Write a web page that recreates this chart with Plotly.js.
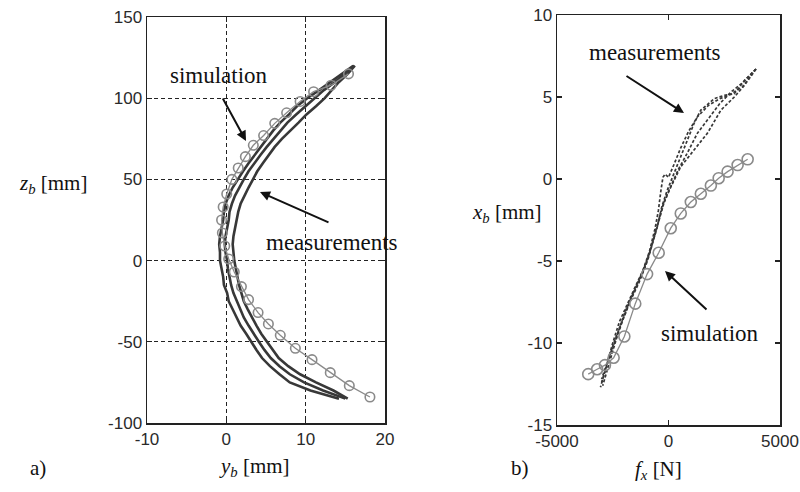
<!DOCTYPE html>
<html>
<head>
<meta charset="utf-8">
<script src="https://cdn.plot.ly/plotly-3.0.1.min.js"></script>
<style>html,body{margin:0;padding:0;background:#fff;}#chart{width:800px;height:492px;}</style>
</head>
<body>
<div id="chart"></div>
<script>
// ---------- Panel a) : z_b vs y_b ----------
const simA_y = [15.4, 13.2, 11.0, 9.3, 7.6, 6.1, 4.7, 3.4, 2.4, 1.5, 0.7, 0.05, -0.4, -0.6, -0.5, -0.2, 0.3, 1.0, 1.9, 2.8, 4.0, 5.3, 6.8, 8.7, 10.8, 13.1, 15.5, 18.1];
const simA_z = [115, 108, 104, 98, 91, 84.5, 77, 71, 64, 57, 50, 41, 33, 25, 17, 9, 1, -7, -16, -24, -32, -39, -46, -54, -61, -69, -77, -84];

const measA_z = [120,115,110,105,100,95,90,85,80,75,70,65,60,55,50,45,40,35,30,25,20,15,10,5,0,-5,-10,-15,-20,-25,-30,-35,-40,-45,-50,-55,-60,-65,-70,-75,-80,-85];
const measA_L = [16.0,14.6,13.1,11.7,10.2,8.9,7.9,6.8,5.9,5.1,4.3,3.6,2.8,2.1,1.4,0.8,0.3,-0.1,-0.3,-0.4,-0.6,-0.8,-0.9,-0.8,-0.8,-0.6,-0.4,-0.3,0.1,0.3,0.8,1.2,1.8,2.5,3.1,3.8,4.5,5.5,6.7,8.0,10.6,14.2];
const measA_M = [16.1,14.9,13.7,12.3,11.1,9.9,8.8,7.7,6.8,5.9,5.1,4.3,3.5,2.8,2.2,1.6,1.1,0.7,0.4,0.3,0.1,-0.1,-0.2,-0.1,0.1,0.2,0.4,0.6,0.9,1.3,1.7,2.2,2.8,3.4,4.1,4.8,5.6,6.7,8.0,9.8,12.2,15.0];
const measA_R = [16.2,15.3,14.2,13.3,12.4,11.3,10.1,9.1,8.0,7.0,6.1,5.3,4.6,3.9,3.3,2.8,2.3,1.8,1.5,1.3,1.1,0.9,0.8,0.9,1.0,1.2,1.4,1.6,1.9,2.2,2.7,3.2,3.8,4.4,5.1,5.8,6.6,7.8,9.3,11.3,13.5,15.3];

// ---------- Panel b) : x_b vs f_x ----------
const simB_f = [3550, 3100, 2650, 2250, 1900, 1450, 1000, 550, 100, -440, -960, -1490, -1980, -2460, -2850, -3200, -3600];
const simB_x = [1.2, 0.85, 0.45, 0.05, -0.4, -0.9, -1.4, -2.1, -3.0, -4.5, -5.8, -7.6, -9.6, -10.9, -11.35, -11.6, -11.9];

const measB1_f = [3920, 3400, 2950, 2500, 2050, 1450, 1150, 850, 550, 250, -60, -300, -500, -800, -1150, -1500, -1850, -2200, -2500, -2750, -3050];
const measB1_x = [6.7, 6.0, 5.2, 5.1, 4.9, 4.2, 3.4, 2.4, 1.4, 0.35, -0.7, -1.7, -2.9, -4.3, -5.6, -6.6, -7.6, -8.7, -10.0, -11.2, -12.7];
const measB2_f = [3920, 3400, 2950, 2350, 1750, 1150, 550, 100, -250, -500, -750, -1000, -1350, -1700, -2050, -2350, -2650, -2950];
const measB2_x = [6.7, 5.7, 5.0, 4.2, 2.8, 1.8, 0.75, -0.5, -1.6, -2.8, -4.0, -5.2, -6.4, -7.4, -8.6, -9.8, -11.2, -12.6];
const measB3_f = [3920, 3300, 2700, 2300, 1800, 1300, 900, 550, 250, 0, -150, -250, -350, -450, -600, -850, -1150, -1550, -1950, -2300, -2600, -2850, -3000];
const measB3_x = [6.7, 5.6, 5.1, 4.9, 4.5, 3.8, 2.9, 1.9, 0.9, 0.1, 0.3, 0.1, -0.8, -1.9, -3.0, -4.4, -5.6, -6.9, -8.1, -9.5, -10.7, -11.8, -12.4];
const measB4_f = [3920, 3350, 2800, 2300, 1800, 1300, 850, 450, 150, -150, -400, -650, -900, -1250, -1650, -2000, -2400, -2700, -3000];
const measB4_x = [6.7, 5.9, 5.3, 4.6, 3.7, 2.8, 1.6, 0.6, -0.3, -1.2, -2.4, -3.6, -4.8, -6.0, -7.2, -8.4, -9.8, -11.0, -12.2];

// ---------- Tick labels ----------
const ticksA_x = [-10, 0, 10, 20];
const ticksA_xText = ["-10", "0", "10", "20"];
const ticksA_y = [-100, -50, 0, 50, 100, 150];
const ticksA_yText = ["-100", "-50", "0", "50", "100", "150"];
const ticksB_x = [-5000, 0, 5000];
const ticksB_xText = ["-5000", "0", "5000"];
const ticksB_y = [-15, -10, -5, 0, 5, 10];
const ticksB_yText = ["-15", "-10", "-5", "0", "5", "10"];

// ---------- Texts ----------
const textSim = "simulation";
const textMeas = "measurements";
const labelZb = "<i>z<sub>b</sub></i> [mm]";
const labelYb = "<i>y<sub>b</sub></i> [mm]";
const labelXb = "<i>x<sub>b</sub></i> [mm]";
const labelFx = "<i>f<sub>x</sub></i> [N]";
const panelA = "a)";
const panelB = "b)";

const W = 800, H = 492;
const px = v => v / W;
const py = v => 1 - v / H;

const simColor = '#8a8a8a';
const measColor = '#383838';

const traces = [];
[measA_L, measA_M, measA_R].forEach(arr => {
  traces.push({x: arr, y: measA_z, xaxis: 'x', yaxis: 'y', mode: 'lines',
    line: {color: measColor, width: 2.6}});
});
traces.push({x: simA_y, y: simA_z, xaxis: 'x', yaxis: 'y', mode: 'lines+markers',
  line: {color: simColor, width: 1.3},
  marker: {symbol: 'circle-open', size: 9.5, color: simColor, line: {width: 1.6, color: simColor}}});

[[measB1_f, measB1_x], [measB2_f, measB2_x], [measB3_f, measB3_x], [measB4_f, measB4_x]].forEach(p => {
  traces.push({x: p[0], y: p[1], xaxis: 'x2', yaxis: 'y2', mode: 'lines',
    line: {color: measColor, width: 1.7, dash: '3px,2px'}});
});
traces.push({x: simB_f, y: simB_x, xaxis: 'x2', yaxis: 'y2', mode: 'lines+markers',
  line: {color: simColor, width: 1.3},
  marker: {symbol: 'circle-open', size: 11, color: simColor, line: {width: 1.6, color: simColor}}});

const tickFont = {family: 'Liberation Sans, Arial, sans-serif', size: 17, color: '#2a2a2a'};
const baseAxis = {showline: true, mirror: 'ticks', linecolor: '#222', linewidth: 1.5,
  ticks: 'inside', ticklen: 5, tickcolor: '#222', tickwidth: 1.3, tickfont: tickFont,
  tickmode: 'array', zeroline: false, fixedrange: true};

const serif = 'Liberation Serif, Times New Roman, serif';
function txt(t, x, y, size) {
  return {text: t, xref: 'paper', yref: 'paper', x: px(x), y: py(y), showarrow: false,
    xanchor: 'center', yanchor: 'middle', font: {family: serif, size: size, color: '#111'}};
}
function arrow(hx, hy, tx, ty) {
  return {text: '', xref: 'paper', yref: 'paper', x: px(hx), y: py(hy), ax: tx - hx, ay: ty - hy,
    showarrow: true, arrowhead: 2, arrowsize: 1, arrowwidth: 2, arrowcolor: '#111'};
}

const layout = {
  width: W, height: H,
  margin: {l: 0, r: 0, t: 0, b: 0},
  paper_bgcolor: '#fff', plot_bgcolor: '#fff',
  showlegend: false,
  xaxis: Object.assign({}, baseAxis, {domain: [px(147), px(385)], range: [-10, 20],
    tickvals: ticksA_x, ticktext: ticksA_xText, showgrid: true, gridcolor: '#222', gridwidth: 1.4, griddash: '4px,3px', anchor: 'y'}),
  yaxis: Object.assign({}, baseAxis, {domain: [py(423), py(17)], range: [-100, 150],
    tickvals: ticksA_y, ticktext: ticksA_yText, showgrid: true, gridcolor: '#222', gridwidth: 1.4, griddash: '4px,3px', anchor: 'x'}),
  xaxis2: Object.assign({}, baseAxis, {domain: [px(557), px(780)], range: [-5000, 5000],
    tickvals: ticksB_x, ticktext: ticksB_xText, showgrid: false, anchor: 'y2'}),
  yaxis2: Object.assign({}, baseAxis, {domain: [py(425), py(15)], range: [-15, 10],
    tickvals: ticksB_y, ticktext: ticksB_yText, showgrid: false, anchor: 'x2'}),
  annotations: [
    txt(textSim, 219, 75, 23),
    txt(textMeas, 332, 242, 23),
    txt(textMeas, 655, 52, 23),
    txt(textSim, 710, 333, 23),
    arrow(246, 141, 222, 97),
    arrow(260, 192, 330, 223),
    arrow(684, 113, 625, 75),
    arrow(665, 271, 708, 311),
    txt(labelZb, 53, 184, 21),
    txt(labelYb, 254, 467, 21),
    txt(labelXb, 507, 213, 21),
    txt(labelFx, 658, 470, 21),
    txt(panelA, 38, 468, 21),
    txt(panelB, 520, 468, 21)
  ]
};

Plotly.newPlot('chart', traces, layout, {staticPlot: true, displayModeBar: false});
</script>
</body>
</html>
